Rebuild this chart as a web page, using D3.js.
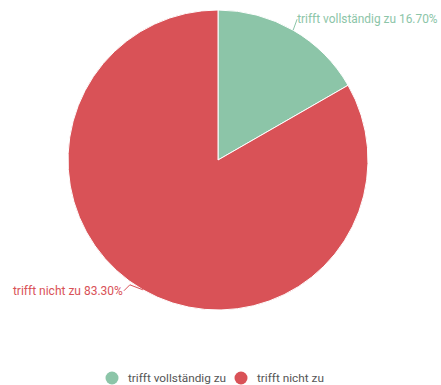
<!DOCTYPE html>
<html>
<head>
<meta charset="utf-8">
<script src="https://cdn.jsdelivr.net/npm/d3@7"></script>
<style>
  html, body { margin: 0; padding: 0; background: #fff; }
  svg { display: block; font-family: Roboto, "Noto Sans", sans-serif; }
</style>
</head>
<body>
<svg id="chart" width="441" height="385"></svg>
<script>
// Answer categories and their shares (percent)
const categories = ["trifft vollständig zu", "trifft nicht zu"];
const values = [16.70, 83.30];
const colors = ["#8cc5a8", "#d95257"];

const svg = d3.select("#chart");
const cx = 218, cy = 160, radius = 150;

const data = categories.map((c, i) => ({ name: c, value: values[i], color: colors[i] }));

const pie = d3.pie().value(d => d.value).sort(null);
const arcs = pie(data);
const arc = d3.arc().innerRadius(0).outerRadius(radius);

const g = svg.append("g").attr("transform", `translate(${cx},${cy})`);

g.selectAll("path.slice")
  .data(arcs)
  .join("path")
  .attr("class", "slice")
  .attr("d", arc)
  .attr("fill", d => d.data.color)
  .attr("stroke", "#fff")
  .attr("stroke-width", 1);

// Outside labels with short leader lines (bend offsets relative to the arc edge)
const bends = [
  [[4, -11], [4, -11]],
  [[-13, -5], [-19, 1]]
];
const fontSizes = [11.9, 12];
arcs.forEach((d, i) => {
  const a = (d.startAngle + d.endAngle) / 2;
  const sx = Math.sin(a), sy = -Math.cos(a);
  const p0 = [sx * radius, sy * radius];
  const pts = [p0].concat(bends[i].map(b => [p0[0] + b[0], p0[1] + b[1]]));
  const end = pts[pts.length - 1];
  const right = sx >= 0;
  g.append("polyline")
    .attr("points", pts.map(p => p.join(",")).join(" "))
    .attr("fill", "none")
    .attr("stroke", d.data.color)
    .attr("stroke-width", 1);
  g.append("text")
    .attr("x", end[0] + (right ? 0 : -1))
    .attr("y", end[1])
    .attr("dy", "0.35em")
    .attr("text-anchor", right ? "start" : "end")
    .attr("fill", d.data.color)
    .attr("font-size", fontSizes[i])
    .text(`${d.data.name} ${d3.format(".2f")(d.data.value)}%`);
});

// Legend
const legend = svg.append("g").attr("transform", "translate(0,378)");
const legendX = [112, 241];
data.forEach((d, i) => {
  legend.append("circle")
    .attr("cx", legendX[i])
    .attr("cy", 0)
    .attr("r", 6.5)
    .attr("fill", d.color);
  legend.append("text")
    .attr("x", legendX[i] + 16)
    .attr("y", 0)
    .attr("dy", "0.35em")
    .attr("fill", "#555")
    .attr("font-size", 11.8)
    .text(d.name);
});
</script>
</body>
</html>
